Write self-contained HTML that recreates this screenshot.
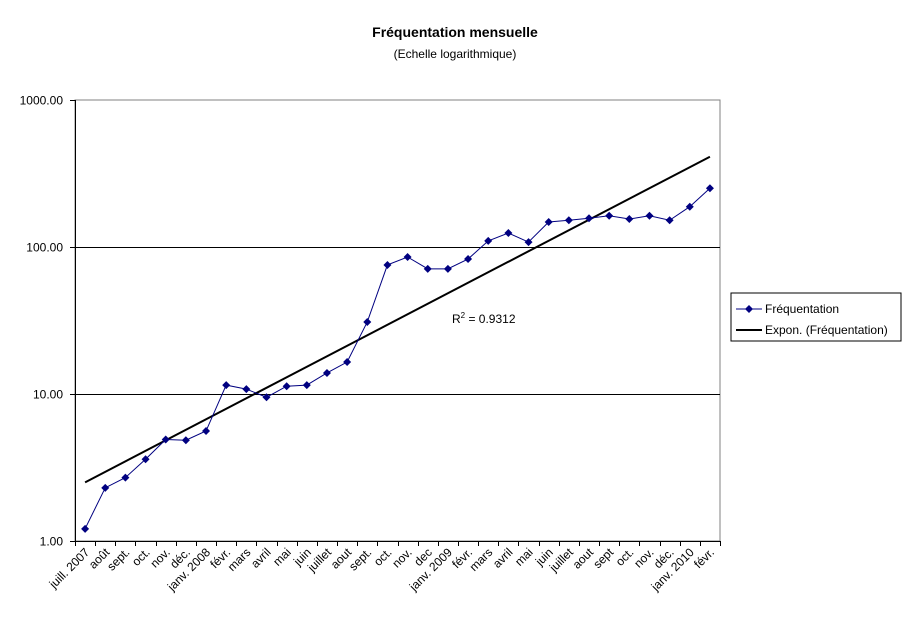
<!DOCTYPE html>
<html><head><meta charset="utf-8">
<style>
html,body{margin:0;padding:0;background:#fff;}
svg{display:block;font-family:"Liberation Sans",Arial,sans-serif;}
</style></head>
<body>
<svg id="chart" width="911" height="623" viewBox="0 0 911 623" xmlns="http://www.w3.org/2000/svg">
<text x="455" y="37" text-anchor="middle" font-size="14" font-weight="bold">Fréquentation mensuelle</text>
<text x="455" y="58" text-anchor="middle" font-size="12">(Echelle logarithmique)</text>
<g id="grid"></g>
<g id="axes"></g>
<g id="series"></g>
<text x="452" y="323" font-size="12">R<tspan dy="-5" font-size="8">2</tspan><tspan dy="5"> = 0.9312</tspan></text>
<g>
<rect x="731" y="293" width="170" height="48" fill="#fff" stroke="#000" stroke-width="1"/>
<line x1="736" y1="309" x2="762" y2="309" stroke="#000080" stroke-width="1"/>
<path d="M749 305 L753 309 L749 313 L745 309Z" fill="#000080"/>
<text x="765" y="313" font-size="12">Fréquentation</text>
<line x1="736" y1="330" x2="762" y2="330" stroke="#000" stroke-width="2"/>
<text x="765" y="334" font-size="12">Expon. (Fréquentation)</text>
</g>
</svg>
<script>
const categories = ["juill. 2007","août","sept.","oct.","nov.","déc.","janv. 2008","févr.","mars","avril","mai","juin","juillet","aout","sept.","oct.","nov.","dec","janv. 2009","févr.","mars","avril","mai","juin","juillet","aout","sept","oct.","nov.","déc.","janv. 2010","févr."];
const values = [1.21,2.3,2.7,3.6,4.9,4.85,5.6,11.5,10.8,9.5,11.3,11.5,13.9,16.5,30.9,75.5,85.5,71,71,82.8,110,124.5,108,148,152,157,163,155,163,152,188,251];
const yTicks = [1,10,100,1000];
const yTickLabels = ["1.00","10.00","100.00","1000.00"];

const NS="http://www.w3.org/2000/svg";
const L=75,R=720,T=100,B=541;
const bw=(R-L)/categories.length;
function xPos(i){return L+bw*(i+0.5);}
function yPos(v){return B-(B-T)*Math.log10(v)/3;}
function mk(tag,attrs,parent){const e=document.createElementNS(NS,tag);for(const k in attrs)e.setAttribute(k,attrs[k]);parent.appendChild(e);return e;}
const grid=document.getElementById('grid'),axes=document.getElementById('axes'),series=document.getElementById('series');

mk('rect',{x:L,y:T,width:R-L,height:B-T,fill:'none',stroke:'#808080','stroke-width':1},grid);
yTicks.forEach((v,i)=>{
  const y=Math.round(yPos(v))+0.5;
  if(v>1&&v<1000){const g=mk('line',{x1:L,y1:y,x2:R,y2:y,stroke:'#000','stroke-width':1},grid);
  
  }
  mk('line',{x1:L-5,y1:y,x2:L,y2:y,stroke:'#000'},axes);
  const t=mk('text',{x:L-12,y:y+4,'text-anchor':'end','font-size':12},axes);
  t.textContent=yTickLabels[i];
  
  
});
mk('line',{x1:L+0.5,y1:T,x2:L+0.5,y2:B,stroke:'#000'},axes);
mk('line',{x1:L,y1:B+0.5,x2:R,y2:B+0.5,stroke:'#000'},axes);
for(let i=0;i<=categories.length;i++){
  const x=Math.round(L+bw*i)+0.5;
  mk('line',{x1:x,y1:B,x2:x,y2:B+5,stroke:'#000'},axes);
}
categories.forEach((c,i)=>{
  const x=xPos(i)+5,y=B+12;
  const t=mk('text',{x:x,y:y,'text-anchor':'end','font-size':12,transform:`rotate(-45 ${x} ${y})`},axes);
  t.textContent=c;
  
  
});

// exponential trendline (least squares on log values)
const n=values.length;let sx=0,sy=0,sxx=0,sxy=0;
values.forEach((v,i)=>{const ly=Math.log(v);sx+=i;sy+=ly;sxx+=i*i;sxy+=i*ly;});
const b=(n*sxy-sx*sy)/(n*sxx-sx*sx),a=(sy-b*sx)/n;
const tl=mk('line',{x1:xPos(0),y1:yPos(Math.exp(a)),x2:xPos(n-1),y2:yPos(Math.exp(a+b*(n-1))),stroke:'#000','stroke-width':2},series);



const pl=mk('polyline',{points:values.map((v,i)=>xPos(i)+','+yPos(v)).join(' '),fill:'none',stroke:'#000080','stroke-width':1},series);


values.forEach((v,i)=>{
  const x=xPos(i),y=yPos(v);
  const p=mk('path',{d:`M${x} ${y-4}L${x+4} ${y}L${x} ${y+4}L${x-4} ${y}Z`,fill:'#000080'},series);
  
  
});
</script>
</body></html>
